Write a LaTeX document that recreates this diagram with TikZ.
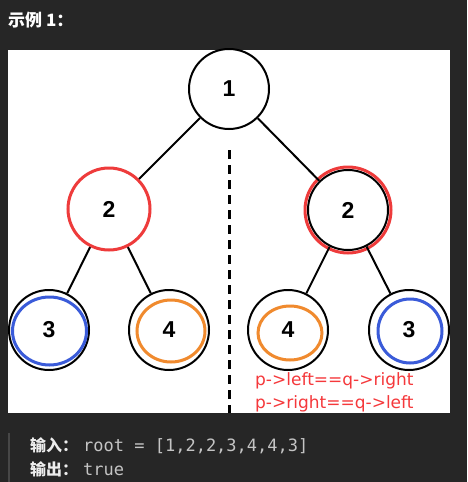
\documentclass[tikz,border=0pt]{standalone}
\usepackage{fontspec}
\setmainfont{Liberation Sans}
\setmonofont{DejaVu Sans Mono}
\newfontfamily\cjk{Noto Sans CJK SC}
\newfontfamily\notefont{DejaVu Sans}
\usetikzlibrary{calc}
\definecolor{pagebg}{HTML}{262626}
\definecolor{barcol}{HTML}{474747}
\definecolor{codegray}{HTML}{C4C4C4}
\definecolor{labelwhite}{HTML}{EDEDED}
\definecolor{ringred}{HTML}{EE3B3B}
\definecolor{notered}{HTML}{F5383B}
\definecolor{ringblue}{HTML}{3A5BD9}
\definecolor{ringorange}{HTML}{F08A2E}
\tikzset{
  tnode/.style={circle,draw=black,line width=2pt,fill=white,minimum size=80pt,inner sep=0pt,font=\fontsize{23}{26}\selectfont\bfseries},
  hotnode/.style={tnode,draw=ringred,line width=3pt,minimum size=82pt},
  edge/.style={line width=2pt,draw=black},
  redring/.style={draw=ringred,line width=3pt},
  bluering/.style={draw=ringblue,line width=3pt},
  orangering/.style={draw=ringorange,line width=3pt},
  cut/.style={line width=3pt,draw=black,dash pattern=on 9pt off 6pt},
  note/.style={anchor=base west,inner sep=0pt,text=notered,font=\fontsize{17}{20}\selectfont\notefont},
  title/.style={anchor=base west,inner sep=0pt,text=white,font=\fontsize{17}{20}\selectfont\bfseries\cjk},
  iolabel/.style={anchor=base west,inner sep=0pt,text=labelwhite,font=\fontsize{16}{20}\selectfont\bfseries\cjk},
  code/.style={anchor=base west,inner sep=0pt,text=codegray,font=\fontsize{17}{20}\selectfont\ttfamily}
}
\begin{document}
\begin{tikzpicture}[x=1pt,y=-1pt]
  \useasboundingbox (0,0) rectangle (467,482);
  \fill[pagebg] (0,0) rectangle (467,482);
  \fill[white] (8,50) rectangle (450,413);
  \fill[barcol] (8,433) rectangle (10,482);

  \node[title] (head) at (8,26) {示例 1：};

  % left and right halves of the tree
  \coordinate (cuttop) at (229,150);
  \coordinate (cutbot) at (229,413);
  \draw[cut] (cuttop) -- (cutbot);

  \node[tnode] (root) at (229,89) {1};
  \node[hotnode] (l2) at (109,209) {2};
  \node[tnode] (r2) at (348,210) {2};
  \node[tnode] (l3) at (49,330) {3};
  \node[tnode] (l4) at (169,330) {4};
  \node[tnode] (r4) at (288,330) {4};
  \node[tnode] (r3) at (409,330) {3};

  \draw[redring] (r2.center) circle (43pt);
  \draw[bluering] ($(l3.center)+(0.5,1)$) ellipse [x radius=37pt,y radius=34pt];
  \draw[orangering] ($(l4.center)+(2,1)$) ellipse [x radius=34pt,y radius=31pt];
  \draw[orangering] ($(r4.center)+(2,3)$) ellipse [x radius=32pt,y radius=27pt];
  \draw[bluering] ($(r3.center)+(1,1)$) ellipse [x radius=32pt,y radius=32pt];

  \draw[edge] (root) -- (l2);
  \draw[edge] (root) -- (r2);
  \draw[edge] (l2) -- (l3);
  \draw[edge] (l2) -- (l4);
  \draw[edge] (r2) -- (r4);
  \draw[edge] (r2) -- (r3);

  \node[note] (cond1) at (255,385) {p->left==q->right};
  \node[note] (cond2) at (255,408) {p->right==q->left};

  \node[iolabel] (inlab) at (30,451) {输入：};
  \node[code] (incode) at (83,451) {root = [1,2,2,3,4,4,3]};
  \node[iolabel] (outlab) at (30,475) {输出：};
  \node[code] (outcode) at (83,475) {true};
\end{tikzpicture}
\end{document}
